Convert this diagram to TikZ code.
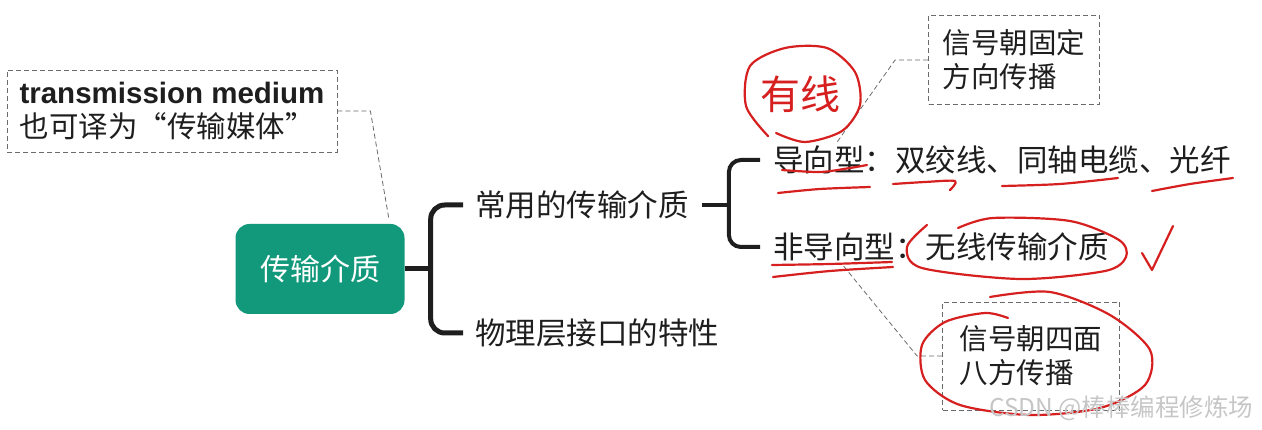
\documentclass[tikz,border=0pt]{standalone}
\usepackage{fontspec}
\setmainfont{Noto Sans CJK SC}
\newfontfamily\arialfont{Liberation Sans}
\usepackage{xcolor}
\usepackage{tikz}
\usetikzlibrary{calc}
\definecolor{rootgreen}{HTML}{12997B}
\definecolor{txtdark}{HTML}{1E1E1E}
\definecolor{notegray}{HTML}{6A6A6A}
\definecolor{inkred}{HTML}{D61F1F}

\begin{document}
\begin{tikzpicture}[x=1pt,y=-1pt,
  root/.style={fill=rootgreen,rounded corners=14pt,minimum width=169pt,minimum height=90pt,text=white,font=\fontsize{30}{32}\selectfont},
  topic/.style={anchor=west,inner sep=0pt,text=txtdark,font=\fontsize{30.5}{32}\selectfont},
  note/.style={draw=notegray,dash pattern=on 5pt off 3pt,thick,align=left,text=txtdark,font=\fontsize{28.5}{34}\selectfont},
  lead/.style={draw=notegray,dash pattern=on 5pt off 3pt,thick},
  brace/.style={draw=txtdark,line width=5pt,rounded corners=14pt},
  ink/.style={draw=inkred,line width=2.2pt,line cap=round,line join=round}]
\useasboundingbox (0,0) rectangle (1262,430);
% central topic and branches
\node[root] (root) at (320,269) {传输介质};
\node[topic] (common) at (475,205) {常用的传输介质};
\node[topic] (physical) at (475,333) {物理层接口的特性};
\node[topic] (guided) at (773,160) {导向型：双绞线、同轴电缆、光纤};
\node[topic] (unguided) at (773,247) {非导向型：无线传输介质};
\draw[brace] (root.east) -- ++(26,0);
\draw[brace] ([xshift=-12pt]common.west) -| ($(root.east)+(26,0)$) |- ([xshift=-12pt]physical.west);
\draw[brace,line width=4pt,rounded corners=12pt] ([xshift=13pt]common.east) -- ++(27,0);
\draw[brace,line width=4pt,rounded corners=12pt] ([xshift=-13pt]guided.west) -| ([xshift=40pt]common.east) |- ([xshift=-13pt]unguided.west);
% notes
\node[note,minimum width=330pt,minimum height=82pt,font=\fontsize{29.5}{34}\selectfont] (term) at (172,111)
  {{\arialfont\bfseries transmission medium}\\也可译为“传输媒体”};
\node[note,minimum width=171pt,minimum height=89pt] (fixed) at (1014,60) {信号朝固定\\方向传播};
\node[note,minimum width=177pt,minimum height=108pt] (omni) at (1031,356) {信号朝四面\\八方传播};
\draw[lead] (term.east) -- ++(33,0) -- ([xshift=-16pt,yshift=6pt]root.north east);
\draw[lead] (fixed.west) -- ++(-33,0) -- ([xshift=63pt,yshift=2pt]guided.north west);
\draw[lead] (omni.west) -- ++(-25,0) -- ([xshift=70pt,yshift=-4pt]unguided.south west);
% red handwriting
\node[text=inkred,inner sep=0pt,font=\fontsize{40}{40}\selectfont] (wired) at (800,94) {有线};
\draw[ink] plot[smooth] coordinates {(768,136) (746,106) (750,66) (785,48) (827,48) (855,72) (860,105) (842,131) (805,142) (776,133)};
\draw[ink] plot[smooth] coordinates {(782,170) (820,172) (850,168) (867,165)};
\draw[ink] plot[smooth] coordinates {(778,193) (820,189) (870,187)};
\draw[ink] plot[smooth] coordinates {(893,184) (925,182) (955,181) (950,190)};
\draw[ink] plot[smooth] coordinates {(1002,186) (1060,184) (1118,178)};
\draw[ink] plot[smooth] coordinates {(1152,191) (1190,184) (1233,178)};
\draw[ink] plot[smooth] coordinates {(772,265) (830,264) (892,262)};
\draw[ink] plot[smooth] coordinates {(773,277) (830,271) (893,267)};
\draw[ink] plot[smooth] coordinates {(927,225) (907,247) (922,268) (1020,279) (1105,271) (1126,257) (1119,240) (1070,221) (993,218) (958,228)};
\draw[ink] (1142,253) -- (1152,270) -- (1173,226);
\draw[ink] plot[smooth] coordinates {(990,297) (1050,292) (1110,315) (1150,350) (1145,385) (1100,408) (1030,415) (960,405) (925,380) (922,345) (945,322) (985,313) (1008,318)};
% watermark
\node[anchor=east,text=gray!45,font=\fontsize{24.5}{24}\selectfont] (mark) at (1257,408) {CSDN @棒棒编程修炼场};
\end{tikzpicture}
\end{document}
